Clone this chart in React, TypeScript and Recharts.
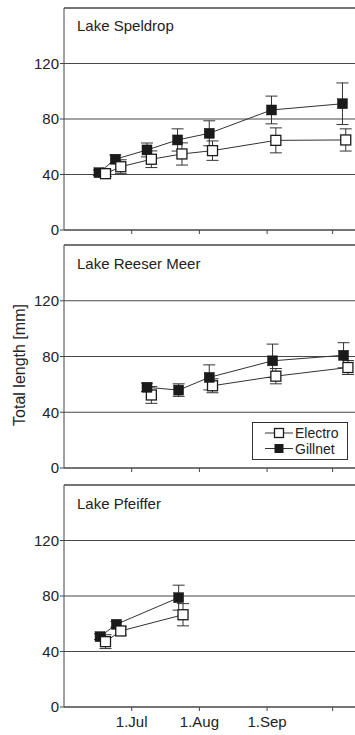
import React from 'react';
import { LineChart, Line, XAxis, YAxis, CartesianGrid, ErrorBar, ReferenceLine } from 'recharts';

// ---- Data ----
const xTicks = [182, 213, 244, 274]; // day of year: 1 Jul, 1 Aug, 1 Sep, 1 Oct
const xTickLabels = ['1.Jul', '1.Aug', '1.Sep', ''];
const yTicks = [0, 40, 80, 120];
const lakeNames = ['Lake Speldrop', 'Lake Reeser Meer', 'Lake Pfeiffer'];
const seriesNames = ['Electro', 'Gillnet'];
const yAxisTitle = 'Total length [mm]';

// Lake Speldrop
const speldropElectroDays = [170, 177, 191, 205, 219, 248, 280];
const speldropElectroMean = [40.6, 45.6, 51, 54.8, 57.2, 64.6, 64.9];
const speldropElectroErr = [2, 5, 6, 8, 7, 9, 8];
const speldropGillnetDays = [167, 174.5, 189, 203, 217.5, 246, 278.5];
const speldropGillnetMean = [41.3, 51, 57.7, 64.9, 69.7, 86.5, 91];
const speldropGillnetErr = [2, 3, 5, 8, 9, 10, 15];

// Lake Reeser Meer
const reeserElectroDays = [191, 204, 219, 248, 281];
const reeserElectroMean = [52.4, null, 59, 65.9, 72.1];
const reeserElectroErr = [6, null, 5, 5.5, 5];
const reeserGillnetDays = [189, 203.5, 217.5, 246.5, 279];
const reeserGillnetMean = [57.9, 55.9, 65, 76.9, 80.9];
const reeserGillnetErr = [3, 4.5, 9, 12, 9];

// Lake Pfeiffer
const pfeifferElectroDays = [170, 177, 205.5];
const pfeifferElectroMean = [47.1, 54.8, 66.5];
const pfeifferElectroErr = [5, 3, 8];
const pfeifferGillnetDays = [167.5, 175, 203.5];
const pfeifferGillnetMean = [50.7, 59.6, 78.8];
const pfeifferGillnetErr = [2, 2, 9];

const toData = (days: number[], mean: (number | null)[], err: (number | null)[]) =>
  days.map((d, i) => ({ day: d, value: mean[i], err: err[i] }));

const FONT = '"Liberation Sans", Arial, sans-serif';
const GRID = '#474747';
const INK = '#1a1a1a';

const openDot = (p: any) => {
  if (p.cx == null || p.cy == null || p.value == null) return <g key={`o${p.index}`} />;
  return (
    <rect key={`o${p.index}`} x={p.cx - 5} y={p.cy - 5} width={10} height={10}
      fill="#fff" stroke={INK} strokeWidth={1.3} />
  );
};
const filledDot = (p: any) => {
  if (p.cx == null || p.cy == null || p.value == null) return <g key={`f${p.index}`} />;
  return (
    <rect key={`f${p.index}`} x={p.cx - 5} y={p.cy - 5} width={10} height={10}
      fill={INK} stroke={INK} strokeWidth={0.5} />
  );
};

type PanelProps = {
  top: number;
  plotH: number;
  electro: any[];
  gillnet: any[];
  showLabels: boolean;
  electroOnTop: boolean;
};

function Panel({ top, plotH, electro, gillnet, showLabels, electroOnTop }: PanelProps) {
  const height = 8 + plotH + 30;
  const electroLine = (
    <Line key="e" data={electro} dataKey="value" name={seriesNames[0]} stroke="#333" strokeWidth={1}
      dot={openDot} activeDot={false} isAnimationActive={false} connectNulls={false}>
      <ErrorBar dataKey="err" width={6} stroke="#333" strokeWidth={1} direction="y" isAnimationActive={false} />
    </Line>
  );
  const gillnetLine = (
    <Line key="g" data={gillnet} dataKey="value" name={seriesNames[1]} stroke="#333" strokeWidth={1}
      dot={filledDot} activeDot={false} isAnimationActive={false}>
      <ErrorBar dataKey="err" width={6} stroke="#333" strokeWidth={1} direction="y" isAnimationActive={false} />
    </Line>
  );
  return (
    <div style={{ position: 'absolute', left: 0, top: top - 8 }}>
      <LineChart width={420} height={height} margin={{ top: 8, right: 0, bottom: 0, left: 0 }}>
        <CartesianGrid vertical={false} stroke={GRID} strokeWidth={1} />
        <XAxis
          type="number"
          dataKey="day"
          domain={[151, 314]}
          ticks={xTicks}
          allowDataOverflow
          height={30}
          axisLine={{ stroke: GRID }}
          tickLine={{ stroke: GRID }}
          tickSize={4}
          tickMargin={5}
          tick={{ fill: '#222', fontSize: 15, fontFamily: FONT }}
          tickFormatter={(v: number) => (showLabels ? xTickLabels[xTicks.indexOf(v)] ?? '' : '')}
        />
        <YAxis
          type="number"
          domain={[0, 160]}
          ticks={yTicks}
          width={64}
          axisLine={{ stroke: GRID }}
          tickLine={{ stroke: GRID }}
          tickSize={4}
          tickMargin={1}
          tick={{ fill: '#222', fontSize: 15, fontFamily: FONT }}
        />
        <ReferenceLine y={160} stroke={GRID} strokeWidth={1} />
        {electroOnTop ? [gillnetLine, electroLine] : [electroLine, gillnetLine]}
      </LineChart>
    </div>
  );
}

const panels = [
  { top: 8, plotH: 222, electro: toData(speldropElectroDays, speldropElectroMean, speldropElectroErr), gillnet: toData(speldropGillnetDays, speldropGillnetMean, speldropGillnetErr), showLabels: false, electroOnTop: true },
  { top: 245, plotH: 223, electro: toData(reeserElectroDays, reeserElectroMean, reeserElectroErr), gillnet: toData(reeserGillnetDays, reeserGillnetMean, reeserGillnetErr), showLabels: false, electroOnTop: false },
  { top: 485, plotH: 222, electro: toData(pfeifferElectroDays, pfeifferElectroMean, pfeifferElectroErr), gillnet: toData(pfeifferGillnetDays, pfeifferGillnetMean, pfeifferGillnetErr), showLabels: true, electroOnTop: true },
];

const titleBaselines = [30.5, 269.3, 509.3];

export default function App() {
  return (
    <div style={{ position: 'absolute', left: 0, top: 0, width: 355, height: 735, overflow: 'hidden', background: '#fff' }}>
      {panels.map((p, i) => (
        <Panel key={i} {...p} />
      ))}
      <svg width={355} height={735} style={{ position: 'absolute', left: 0, top: 0, pointerEvents: 'none' }}>
        {lakeNames.map((n, i) => (
          <text key={n} x={77} y={titleBaselines[i]} fontSize={15} fontFamily={FONT} fill="#222">{n}</text>
        ))}
        <text transform="rotate(-90)" x={-365} y={24.5} textAnchor="middle" fontSize={16} fontFamily={FONT} fill="#222">
          {yAxisTitle}
        </text>
        <g>
          <rect x={252.5} y={422.5} width={95} height={37} fill="#fff" stroke="#333" strokeWidth={1} />
          <line x1={265} x2={293} y1={433} y2={433} stroke="#333" strokeWidth={1} />
          <rect x={274.5} y={428.5} width={9} height={9} fill="#fff" stroke={INK} strokeWidth={1.3} />
          <text x={295} y={437.8} fontSize={14} fontFamily={FONT} fill="#222">{seriesNames[0]}</text>
          <line x1={265} x2={293} y1={448.5} y2={448.5} stroke="#333" strokeWidth={1} />
          <rect x={274.5} y={444} width={9} height={9} fill={INK} />
          <text x={295} y={453.8} fontSize={14} fontFamily={FONT} fill="#222">{seriesNames[1]}</text>
        </g>
      </svg>
    </div>
  );
}
